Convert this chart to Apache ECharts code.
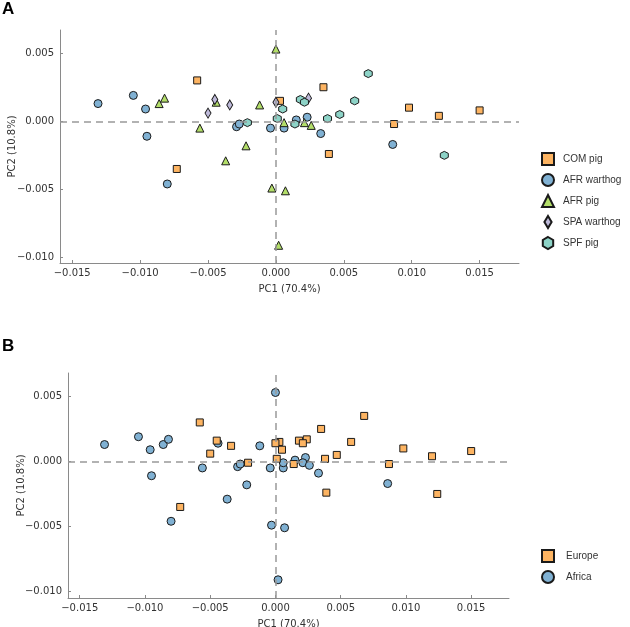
<!DOCTYPE html>
<html>
<head>
<meta charset="utf-8">
<script src="https://cdn.jsdelivr.net/npm/echarts@6/dist/echarts.min.js"></script>
<style>html,body{margin:0;padding:0;background:#fff}#c{width:630px;height:627px}</style>
</head>
<body>
<div id="c"></div>
<script>
// ---- Data (PC1, PC2) ----
var comPig = [[-0.0058,0.0030],[-0.0073,-0.0035],[0.0003,0.0015],[0.0035,0.0025],[0.0039,-0.0024],[0.0087,-0.0002],[0.0098,0.0010],[0.0120,0.0004],[0.0150,0.0008]];
var afrWarthog = [[-0.0131,0.0013],[-0.0105,0.0019],[-0.0096,0.0009],[-0.0095,-0.0011],[-0.0080,-0.0046],[-0.0029,-0.0004],[-0.0027,-0.0002],[-0.0004,-0.0005],[0.0006,-0.0005],[0.0015,0.0001],[0.0023,0.0003],[0.0033,-0.0009],[0.0086,-0.0017]];
var afrPig = [[0.0000,0.0053],[-0.0086,0.0013],[-0.0082,0.0017],[-0.0056,-0.0005],[-0.0044,0.0014],[-0.0022,-0.0018],[-0.0037,-0.0029],[-0.0012,0.0012],[-0.0003,-0.0049],[0.0007,-0.0051],[0.0002,-0.0091],[0.0006,-0.0001],[0.0021,-0.0001],[0.0026,-0.0003]];
var spaWarthog = [[-0.0045,0.0016],[-0.0050,0.0006],[-0.0034,0.0012],[0.0000,0.0014],[0.0024,0.0017]];
var spfPig = [[-0.0021,-0.0001],[0.0001,0.0002],[0.0005,0.0009],[0.0018,0.0016],[0.0021,0.0014],[0.0014,-0.0002],[0.0068,0.0035],[0.0058,0.0015],[0.0047,0.0005],[0.0038,0.0002],[0.0124,-0.0025]];
var groupNames = ['COM pig','AFR warthog','AFR pig','SPA warthog','SPF pig'];
var regionNames = ['Europe','Africa'];
var europe = comPig.concat(spaWarthog, spfPig);
var africa = afrWarthog.concat(afrPig);
var xTicks = [-0.015,-0.010,-0.005,0.000,0.005,0.010,0.015];
var yTicks = [-0.010,-0.005,0.000,0.005];
var xName = 'PC1 (70.4%)', yName = 'PC2 (10.8%)';

// ---- Styling ----
var C = {orange:'#fdb462', blue:'#80b1d3', green:'#b3de69', lav:'#bebada', teal:'#8dd3c7'};
var hex = 'path://M0,-10L8.66,-5L8.66,5L0,10L-8.66,5L-8.66,-5Z';
var thinDiamond = 'path://M0,-10L6,0L0,10L-6,0Z';
var axisCol = '#8a8a8a', txt = '#333';
function fmt(v){ var s = Math.abs(v).toFixed(3); return (v < -1e-12 ? '\u2212' : '') + s; }

function xAxisCfg(gi){
  return {gridIndex:gi, type:'value', min:-0.0159, max:0.0179,
    name:xName, nameLocation:'middle', nameGap:21, nameMoveOverlap:false,
    nameTextStyle:{fontFamily:'DejaVu Sans', fontSize:10, color:txt},
    axisLine:{onZero:false, lineStyle:{color:axisCol, width:1}},
    axisTick:{inside:true, length:3, lineStyle:{color:axisCol}, customValues:xTicks},
    axisLabel:{margin:5, fontFamily:'DejaVu Sans', fontSize:10, color:txt, customValues:xTicks, formatter:fmt, showMinLabel:true, showMaxLabel:true},
    splitLine:{show:false}};
}
function yAxisCfg(gi, mn, mx, gap){
  return {gridIndex:gi, type:'value', min:mn, max:mx,
    name:yName, nameLocation:'middle', nameGap:gap, nameRotate:90, nameMoveOverlap:false,
    nameTextStyle:{fontFamily:'DejaVu Sans', fontSize:10, color:txt},
    axisLine:{show:true, onZero:false, lineStyle:{color:axisCol, width:1}},
    axisTick:{show:true, inside:true, length:3, lineStyle:{color:axisCol}, customValues:yTicks},
    axisLabel:{margin:6, fontFamily:'DejaVu Sans', fontSize:10, color:txt, customValues:yTicks, formatter:fmt},
    splitLine:{show:false}};
}
function refLines(gi){
  return {type:'scatter', name:'_ref'+gi, xAxisIndex:gi, yAxisIndex:gi, data:[], z:1, silent:true,
    markLine:{silent:true, symbol:['none','none'], label:{show:false}, animation:false,
      lineStyle:{color:'#999', type:[7,5], width:1.5},
      data:[{xAxis:0},{yAxis:0}]}};
}
function sc(gi, name, data, color, symbol, size){
  return {type:'scatter', name:name, xAxisIndex:gi, yAxisIndex:gi, data:data, z:3,
    symbol:symbol, symbolSize:size,
    itemStyle:{color:color, borderColor:'#1a1a1a', borderWidth:1, opacity:1}};
}

var option = {
  animation:false,
  backgroundColor:'#fff',
  graphic:[
    {type:'text', left:2, top:1, style:{text:'A', font:'bold 17px "Liberation Sans", Arial', fill:'#000'}},
    {type:'text', left:2, top:338, style:{text:'B', font:'bold 17px "Liberation Sans", Arial', fill:'#000'}}
  ],
  grid:[
    {left:60, top:30, width:459, height:233, containLabel:false, outerBoundsMode:'none'},
    {left:68, top:373, width:441, height:225, containLabel:false, outerBoundsMode:'none'}
  ],
  xAxis:[xAxisCfg(0), xAxisCfg(1)],
  yAxis:[yAxisCfg(0,-0.0104,0.0067,43), yAxisCfg(1,-0.0105,0.0068,42)],
  legend:[
    {data:groupNames.map(function(n){ return n==='SPA warthog' ? {name:n, icon:thinDiamond} : {name:n}; }),
     orient:'vertical', left:536, top:147, itemWidth:12, itemHeight:12, itemGap:7,
     itemStyle:{borderWidth:2, borderColor:'#1a1a1a'},
     textStyle:{fontFamily:'Liberation Sans', fontSize:10, color:txt, padding:[0,0,0,4]}, selectedMode:false},
    {data:regionNames, orient:'vertical', left:536, top:544, itemWidth:12, itemHeight:12, itemGap:7,
     itemStyle:{borderWidth:2, borderColor:'#1a1a1a'},
     textStyle:{fontFamily:'Liberation Sans', fontSize:10, color:txt, padding:[0,0,0,7]}, selectedMode:false}
  ],
  series:[
    refLines(0),
    sc(0, groupNames[0], comPig, C.orange, 'rect', 7),
    sc(0, groupNames[1], afrWarthog, C.blue, 'circle', 8),
    sc(0, groupNames[2], afrPig, C.green, 'triangle', 8),
    sc(0, groupNames[3], spaWarthog, C.lav, thinDiamond, [6,10]),
    sc(0, groupNames[4], spfPig, C.teal, hex, 8),
    refLines(1),
    sc(1, regionNames[1], africa, C.blue, 'circle', 8),
    sc(1, regionNames[0], europe, C.orange, 'rect', 7)
  ]
};
var chart = echarts.init(document.getElementById('c'), null, {renderer:'canvas'});
chart.setOption(option);
</script>
</body>
</html>
